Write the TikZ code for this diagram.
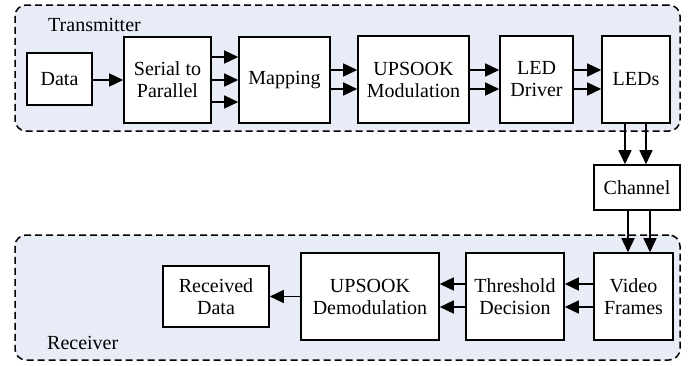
\documentclass[tikz,border=0pt]{standalone}
\usepackage{fontspec}
\setmainfont{Liberation Serif}
\newfontfamily\tms{Liberation Serif}
\usetikzlibrary{arrows.meta}
\definecolor{panel}{HTML}{E8ECF6}
\tikzset{
  blk/.style={draw, line width=1.6pt, fill=white, align=center, inner sep=0pt,
    font=\tms\fontsize{20}{22}\selectfont},
  arr/.style={line width=1.5pt, -{Triangle[length=14pt,width=13pt]}},
  panelbox/.style={draw, dash pattern=on 7pt off 4pt, line width=1.5pt, fill=panel,
    rounded corners=11pt, inner sep=0pt},
  lbl/.style={font=\tms\fontsize{20}{22}\selectfont, inner sep=0pt}
}
\begin{document}
\begin{tikzpicture}[x=1pt,y=-1pt]
\useasboundingbox (0,0) rectangle (691,365);
% containers
\node[panelbox, minimum width=665, minimum height=126] (tx) at (347.5,68) {};
\node[panelbox, minimum width=665, minimum height=125] (rx) at (347.5,297.5) {};
\node[lbl, anchor=base west] (txl) at (48,31) {Transmitter};
\node[lbl, anchor=base west] (rxl) at (47,349) {Receiver};
% transmitter blocks
\node[blk, minimum width=65, minimum height=52] (data) at (59.5,79) {Data};
\node[blk, minimum width=87, minimum height=86] (s2p) at (167.5,80) {Serial to\\Parallel};
\node[blk, minimum width=91, minimum height=86] (map) at (284.5,80) {Mapping};
\node[blk, minimum width=111, minimum height=87] (mod) at (413.5,79.5) {UPSOOK\\Modulation};
\node[blk, minimum width=73, minimum height=87] (drv) at (536.5,79.5) {LED\\Driver};
\node[blk, minimum width=68, minimum height=87] (leds) at (636,79.5) {LEDs};
% channel
\node[blk, minimum width=86, minimum height=45] (chan) at (637,187.5) {Channel};
% receiver blocks
\node[blk, minimum width=79, minimum height=87] (vid) at (633.5,296.5) {Video\\Frames};
\node[blk, minimum width=98, minimum height=87] (thr) at (515,296.5) {Threshold\\Decision};
\node[blk, minimum width=138, minimum height=87] (demod) at (370,296.5) {UPSOOK\\Demodulation};
\node[blk, minimum width=106, minimum height=61] (rec) at (216,296.5) {Received\\Data};
% connectors
\draw[arr] ([yshift=-1pt]data.east) -- ([yshift=-1pt]data.east -| s2p.west);
\foreach \s in {23,0,-22}
  \draw[arr] ([yshift=\s pt]s2p.east) -- ([yshift=\s pt]s2p.east -| map.west);
\foreach \s in {10,-9}
  \draw[arr] ([yshift=\s pt]map.east) -- ([yshift=\s pt]map.east -| mod.west);
\foreach \s in {9.5,-9.5}
  \draw[arr] ([yshift=\s pt]mod.east) -- ([yshift=\s pt]mod.east -| drv.west);
\foreach \s in {9.5,-9.5}
  \draw[arr] ([yshift=\s pt]drv.east) -- ([yshift=\s pt]drv.east -| leds.west);
\foreach \s in {-11,10}
  \draw[arr] ([xshift=\s pt]leds.south) -- ([xshift=\s pt]leds.south |- chan.north);
\foreach \s in {-9,13}
  \draw[arr] ([xshift=\s pt]chan.south) -- ([xshift=\s pt]chan.south |- vid.north);
\foreach \s in {12.5,-10.5}
  \draw[arr] ([yshift=\s pt]vid.west) -- ([yshift=\s pt]vid.west -| thr.east);
\foreach \s in {12.5,-10.5}
  \draw[arr] ([yshift=\s pt]thr.west) -- ([yshift=\s pt]thr.west -| demod.east);
\draw[arr] (demod.west) -- (demod.west -| rec.east);
\end{tikzpicture}
\end{document}
